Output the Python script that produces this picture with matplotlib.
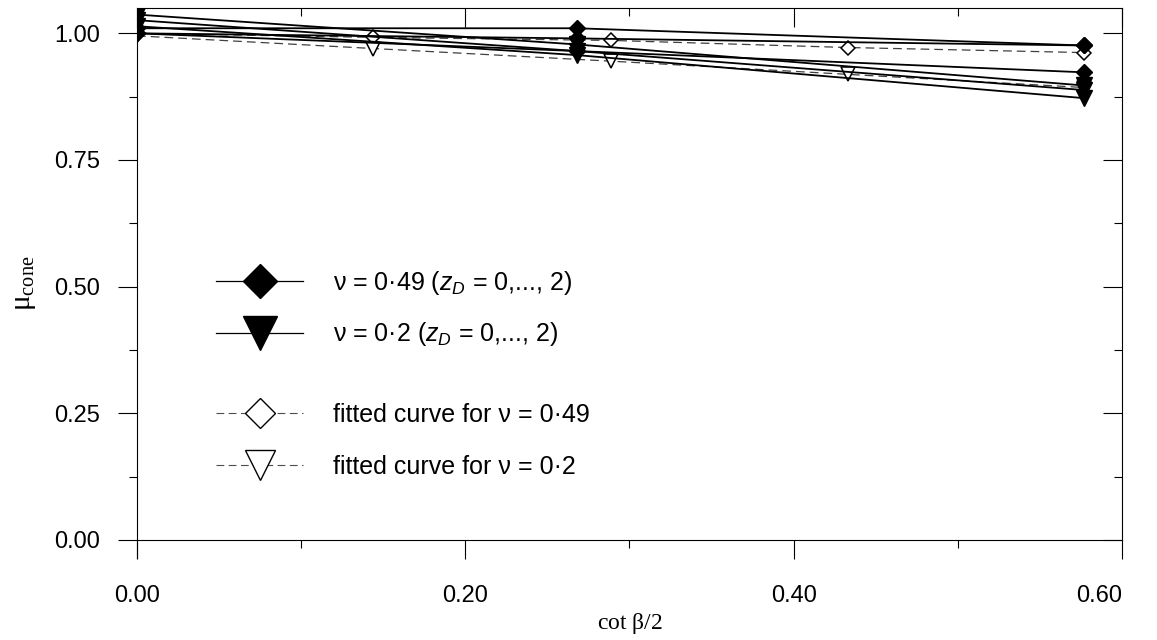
import matplotlib
matplotlib.use('Agg')
import matplotlib.pyplot as plt
from matplotlib.lines import Line2D
from matplotlib.ticker import MultipleLocator, FormatStrFormatter

plt.rcParams['font.family'] = ['Liberation Sans', 'DejaVu Sans']
plt.rcParams['mathtext.fontset'] = 'custom'
plt.rcParams['mathtext.rm'] = 'Liberation Serif'
plt.rcParams['mathtext.it'] = 'Liberation Sans:italic'

# FE results (cot beta/2, mu_cone), one line per z_D value
x_fe = [0.0, 0.268, 0.577]
nu049_fe = [
    [1.010, 1.010, 0.976],
    [1.000, 0.990, 0.976],
    [1.000, 0.965, 0.923],
]
nu02_fe = [
    [1.037, 0.978, 0.897],
    [1.026, 0.965, 0.888],
    [1.014, 0.957, 0.872],
]

# fitted curves
x_fit = [0.0, 0.144, 0.289, 0.433, 0.577]
fit049 = [1.000, 0.992, 0.986, 0.972, 0.962]
fit02 = [0.995, 0.970, 0.945, 0.919, 0.893]

x_ticks = [0.0, 0.2, 0.4, 0.6]
y_ticks = [0.0, 0.25, 0.5, 0.75, 1.0]

fs = 17
fig = plt.figure(figsize=(11.57, 6.4), dpi=100)
ax = fig.add_axes([0.1184, 0.128, 0.8513, 0.8595])

dash = (0, (7, 4))
ax.plot(x_fit, fit049, color='0.25', lw=0.9, ls=dash, marker='D', ms=7.5,
        mfc='white', mec='black', mew=1.1, zorder=2)
ax.plot(x_fit, fit02, color='0.25', lw=0.9, ls=dash, marker='v', ms=10.5,
        mfc='white', mec='black', mew=1.1, zorder=2)
for yy in nu049_fe:
    ax.plot(x_fe, yy, color='black', lw=1.3, marker='D', ms=8.5,
            mfc='black', mec='black', zorder=3)
for yy in nu02_fe:
    ax.plot(x_fe, yy, color='black', lw=1.3, marker='v', ms=12,
            mfc='black', mec='black', zorder=3)

ax.set_xlim(0, 0.6)
ax.set_ylim(-0.036, 1.05)
ax.spines['bottom'].set_position(('data', 0))
ax.spines['right'].set_bounds(0, 1.05)
for s in ax.spines.values():
    s.set_linewidth(0.8)

ax.set_xticks(x_ticks)
ax.xaxis.set_minor_locator(MultipleLocator(0.1))
ax.set_yticks(y_ticks)
ax.yaxis.set_minor_locator(MultipleLocator(0.125))
ax.xaxis.set_major_formatter(FormatStrFormatter('%.2f'))
ax.yaxis.set_major_formatter(FormatStrFormatter('%.2f'))

ax.tick_params(axis='x', which='major', direction='out', length=13.5, width=0.8,
               labelsize=fs, pad=19, top=True)
ax.tick_params(axis='x', which='minor', direction='out', length=6, width=0.8, top=True)
ax.tick_params(axis='y', which='major', direction='out', length=13.5, width=0.8,
               labelsize=fs, pad=13, right=True)
ax.tick_params(axis='y', which='minor', direction='out', length=6, width=0.8, right=True)
# ticks on top/right point inwards
for t in ax.xaxis.get_major_ticks() + ax.xaxis.get_minor_ticks():
    t.tick2line.set_marker(3)
for t in ax.yaxis.get_major_ticks() + ax.yaxis.get_minor_ticks():
    t.tick2line.set_marker(0)
ax.get_xticklabels()[-1].set_horizontalalignment('right')

ax.set_xlabel(r'cot $\mathrm{\beta}$/2', fontsize=fs, family='Liberation Serif', labelpad=3)
ax.set_ylabel(r'$\mathrm{\mu}_{\mathrm{cone}}$', fontsize=fs + 4, labelpad=12)

h1 = [
    Line2D([], [], color='black', lw=0.9, marker='D', ms=17.5, mfc='black', mec='black'),
    Line2D([], [], color='black', lw=0.9, marker='v', ms=25, mfc='black', mec='black'),
]
l1 = ['ν = 0·49 ($z_D$ = 0,..., 2)', 'ν = 0·2 ($z_D$ = 0,..., 2)']
h2 = [
    Line2D([], [], color='0.3', lw=0.8, ls=dash, marker='D', ms=15.5, mfc='white', mec='black', mew=1.0),
    Line2D([], [], color='0.3', lw=0.8, ls=dash, marker='v', ms=22, mfc='white', mec='black', mew=1.0),
]
l2 = ['fitted curve for ν = 0·49', 'fitted curve for ν = 0·2']

leg1 = ax.legend(h1, l1, loc='center left', bbox_to_anchor=(0.0802, 0.4536), frameon=False,
                 fontsize=fs + 1, handlelength=3.5, handletextpad=1.2, labelspacing=0.95,
                 borderpad=0, borderaxespad=0)
ax.add_artist(leg1)
ax.legend(h2, l2, loc='center left', bbox_to_anchor=(0.0802, 0.213), frameon=False,
          fontsize=fs + 1, handlelength=3.5, handletextpad=1.2, labelspacing=1.1,
          borderpad=0, borderaxespad=0)

fig.savefig('out.png', dpi=100)
